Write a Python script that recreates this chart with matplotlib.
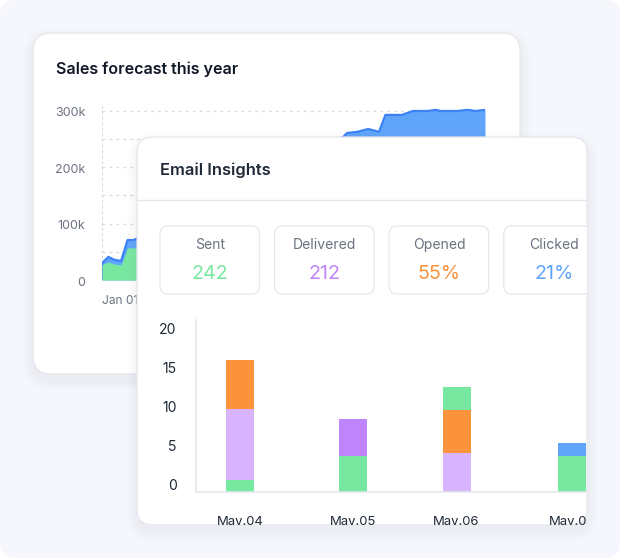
import matplotlib
matplotlib.use("Agg")
import matplotlib.pyplot as plt
from matplotlib.patches import FancyBboxPatch
from matplotlib.transforms import Bbox, TransformedBbox, ScaledTranslation

plt.rcParams["font.family"] = ["Inter", "DejaVu Sans"]

W, H = 620, 558

# ------------------ data ------------------
forecast_x = [0, 1, 2, 3, 4, 5, 10, 20, 30, 37.8, 38.4, 40, 41.7, 43.4, 44.4, 47,
              48.7, 51, 52.3, 53, 55.7, 57.2, 58.5, 60]
forecast_top = [30, 41, 35.5, 34, 71, 71, 100, 170, 220, 254, 261, 263, 268, 263, 293, 293,
                300, 300, 302, 300, 300, 302, 300, 302]
forecast_low = [27, 32, 28, 27, 57, 57, 70, 90, 110, 130, 132, 135, 138, 140, 145, 150,
                155, 158, 160, 162, 165, 168, 170, 172]
forecast_ticks = [0, 100, 200, 300]
forecast_labels = ["0", "100k", "200k", "300k"]

stat_names = ["Sent", "Delivered", "Opened", "Clicked"]
stat_values = ["242", "212", "55%", "21%"]

days = ["May.04", "May.05", "May.06", "May.07"]
day_pos = [240, 353, 456.5, 572]
may04_vals = [1.5, 9.1, 6.2]
may05_vals = [4.6, 4.7]
may06_vals = [4.9, 5.5, 3.0]
may07_vals = [4.5, 1.7]
may04_cols = ["green", "lilac", "orange"]
may05_cols = ["green", "purple"]
may06_cols = ["lilac", "orange", "green"]
may07_cols = ["green", "blue"]
bar_ticks = [0, 5, 10, 15, 20]

COLORS = {"green": "#78E8A0", "lilac": "#D8B4FE", "purple": "#C084FC",
          "orange": "#FB923C", "blue": "#60A5FA"}
stat_colors = ["#78E8A0", "#C084FC", "#FB923C", "#60A5FA"]
BORDER = "#E5E7EB"
DARK = "#1F2937"
GREY = "#6B7280"


def px_axes(left, top, right, bottom, z):
    ax = fig.add_axes([left / W, 1 - bottom / H, (right - left) / W, (bottom - top) / H])
    ax.set_zorder(z)
    ax.patch.set_alpha(0)
    return ax


def card(ax, x0, y0, x1, y1, r, fc="white", ec=BORDER, lw=0.9, alpha=1, z=1):
    p = FancyBboxPatch((x0, y0), x1 - x0, y1 - y0, boxstyle=f"round,pad=0,rounding_size={r}",
                       fc=fc, ec=ec, lw=lw, alpha=alpha, zorder=z)
    ax.add_patch(p)
    return p


def shadow(ax, x0, y0, x1, y1, r):
    for grow in range(10, 0, -2):
        card(ax, x0 - grow, y0 - grow + 6, x1 + grow, y1 + grow + 6, r + grow,
             fc="#8A93B0", ec="none", lw=0, alpha=0.014)


def nudge_labels(labels, px):
    # move tick labels up by px pixels
    for lbl in labels:
        lbl.set_transform(lbl.get_transform() + ScaledTranslation(0, px / 100, fig.dpi_scale_trans))


fig = plt.figure(figsize=(W / 100, H / 100), dpi=100, facecolor="white")

# ------------------ back layer ------------------
back = px_axes(0, 0, W, H, 0)
back.set_xlim(0, W)
back.set_ylim(H, 0)
back.axis("off")
card(back, 0, 0, W, H, 16, fc="#F5F7FC", ec="none", lw=0)
shadow(back, 33, 33, 520, 374, 18)
card(back, 33, 33, 520, 374, 18)
back.text(56, 69, "Sales forecast this year", fontsize=11.6, fontweight=600,
          color="#111827", va="center", zorder=5)

# ------------------ sales area chart ------------------
ax1 = px_axes(102, 104, 485, 280, 1)
ax1.set_xlim(0, 60)
ax1.set_ylim(0, 312.4)
ax1.fill_between(forecast_x, forecast_top, color="#60A5FA", lw=0, zorder=2)
ax1.plot(forecast_x, forecast_top, color="#3B82F6", lw=1.6, zorder=3)
ax1.plot([0, 0], [0, forecast_top[0]], color="#3B82F6", lw=1.6, zorder=3)
ax1.fill_between(forecast_x, forecast_low, color="#78E8A0", lw=0, zorder=4)
ax1.set_yticks(forecast_ticks, forecast_labels, fontsize=9.0, color=GREY, va="center_baseline")
ax1.set_yticks([50, 150, 250], minor=True)
ax1.set_xticks([0], ["Jan 01"], fontsize=8.6, color=GREY, ha="left")
ax1.tick_params(which="both", length=0)
ax1.tick_params(axis="y", pad=12)
ax1.tick_params(axis="x", pad=11)
nudge_labels(ax1.get_yticklabels(), -1)
ax1.grid(which="both", axis="y", color="#D9DCE3", lw=1, ls=(0, (2, 3)), zorder=0)
ax1.spines["left"].set_color("#D9DCE3")
ax1.spines["left"].set_linestyle((0, (2, 3)))
for s in ["top", "right", "bottom"]:
    ax1.spines[s].set_visible(False)

# ------------------ email card ------------------
top = px_axes(0, 0, W, H, 2)
top.set_xlim(0, W)
top.set_ylim(H, 0)
top.axis("off")
shadow(top, 137, 137, 587, 525, 16)
email_card = card(top, 137, 137, 587, 525, 16)
top.text(160, 170, "Email Insights", fontsize=11.9, fontweight=600, color=DARK,
         va="center", zorder=5)
top.plot([137, 587], [200, 200], color=BORDER, lw=1, zorder=4)

for i, name in enumerate(stat_names):
    x0 = 160 + i * 114.6
    box = card(top, x0, 226, x0 + 99.5, 294, 8, z=4)
    box.set_clip_path(email_card)
    top.text(x0 + 50, 245, name, fontsize=10.1, color=GREY, ha="center", va="center", zorder=5)
    top.text(x0 + 50, 274, stat_values[i], fontsize=14.2, color=stat_colors[i], ha="center",
             va="center", zorder=5)

# ------------------ stacked bars ------------------
ax2 = px_axes(196, 320, 586, 491.5, 3)
ax2.set_xlim(196, 586)
ax2.set_ylim(0, 171.5 / 7.8)
for pos, vals, cols in zip(day_pos, [may04_vals, may05_vals, may06_vals, may07_vals],
                           [may04_cols, may05_cols, may06_cols, may07_cols]):
    bottom = 0
    for v, c in zip(vals, cols):
        ax2.bar(pos, v, width=28, bottom=bottom, color=COLORS[c], lw=0)
        bottom += v
ax2.set_yticks(bar_ticks, [str(t) for t in bar_ticks], fontsize=10.1, color=DARK, va="baseline")
ax2.set_xticks(day_pos, days, fontsize=9.4, color=DARK)
ax2.tick_params(length=0)
ax2.tick_params(axis="y", pad=14)
ax2.tick_params(axis="x", pad=18)
nudge_labels(ax2.get_yticklabels(), 1.5)
# the card cuts the date labels off at its edge
card_box = TransformedBbox(Bbox([[137, 137], [587, 525]]), top.transData)
for lbl in ax2.get_xticklabels():
    lbl.set_clip_on(True)
    lbl.set_clip_box(card_box)
for s in ["top", "right"]:
    ax2.spines[s].set_visible(False)
ax2.spines["left"].set_color(BORDER)
ax2.spines["bottom"].set_color(BORDER)
ax2.spines["left"].set_linewidth(1.2)
ax2.spines["bottom"].set_linewidth(1.2)

fig.savefig("out.png", dpi=100, facecolor="white")
